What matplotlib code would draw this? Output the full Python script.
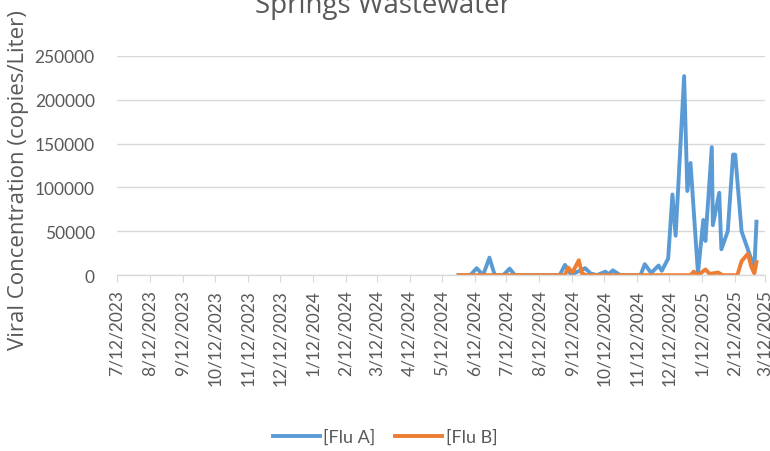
import matplotlib
matplotlib.use("Agg")
import matplotlib.pyplot as plt
import matplotlib.dates as mdates
from matplotlib.ticker import FuncFormatter, MultipleLocator
import pandas as pd

# --- data ---
flu_a_dates = ["2024-05-28", "2024-06-08", "2024-06-14", "2024-06-20", "2024-06-26",
               "2024-07-01", "2024-07-09", "2024-07-15", "2024-07-20", "2024-08-03",
               "2024-08-31", "2024-09-05", "2024-09-11", "2024-09-15", "2024-09-19",
               "2024-09-24", "2024-09-29", "2024-10-05", "2024-10-13", "2024-10-16",
               "2024-10-20", "2024-10-27", "2024-11-15", "2024-11-19", "2024-11-25",
               "2024-12-02", "2024-12-05", "2024-12-11", "2024-12-15", "2024-12-18",
               "2024-12-26", "2024-12-29", "2025-01-01", "2025-01-08", "2025-01-13",
               "2025-01-15", "2025-01-21", "2025-01-22", "2025-01-28", "2025-01-30",
               "2025-02-05", "2025-02-10", "2025-02-12", "2025-02-18", "2025-02-24",
               "2025-03-02", "2025-03-04"]
flu_a_vals = [0, 0, 8000, 0, 20000,
              0, 0, 7500, 0, 0,
              0, 11700, 0, 3000, 5000,
              8000, 2000, 0, 4000, 1000,
              5500, 0, 0, 12500, 2500,
              11000, 5000, 19000, 92000, 45000,
              227000, 96000, 128000, 2000, 63000,
              39000, 146000, 57000, 94000, 29500,
              50000, 137500, 137500, 50000, 29000,
              8000, 61000]

flu_b_dates = ["2024-05-28", "2024-09-05", "2024-09-08", "2024-09-12", "2024-09-18",
               "2024-09-21", "2024-09-25", "2025-01-01", "2025-01-04", "2025-01-08",
               "2025-01-15", "2025-01-19", "2025-01-27", "2025-01-31", "2025-02-14",
               "2025-02-18", "2025-02-24", "2025-02-27", "2025-03-02", "2025-03-04"]
flu_b_vals = [0, 0, 8700, 3000, 17000,
              2000, 0, 0, 4000, 0,
              6500, 1500, 3000, 0, 0,
              16000, 24500, 10000, 2000, 15000]

x_start, x_end = "2023-07-12", "2025-03-12"

GRAY_TXT = "#595959"
GRID = "#D9D9D9"
BLUE = "#5B9BD5"
ORANGE = "#ED7D31"

fig = plt.figure(figsize=(7.7, 4.52), dpi=100)
ax = fig.add_axes([0.152, 0.389, 0.8415, 0.485])

ax.plot(pd.to_datetime(flu_a_dates), flu_a_vals, color=BLUE, lw=2.8,
        solid_joinstyle="round", label="[Flu A]")
ax.plot(pd.to_datetime(flu_b_dates), flu_b_vals, color=ORANGE, lw=2.8,
        solid_joinstyle="round", label="[Flu B]")

ax.set_ylim(0, 250000)
ax.yaxis.set_major_locator(MultipleLocator(50000))
ax.set_xlim(pd.Timestamp(x_start), pd.Timestamp(x_end))
ax.xaxis.set_major_locator(mdates.MonthLocator(bymonthday=12))


def fmt_date(x, pos):
    d = mdates.num2date(x)
    return f"{d.month}/{d.day}/{d.year}"


ax.xaxis.set_major_formatter(FuncFormatter(fmt_date))

ax.grid(axis="y", color=GRID, lw=1)
ax.set_axisbelow(True)
for s in ("left", "right", "top"):
    ax.spines[s].set_visible(False)
ax.spines["bottom"].set_color(GRID)
ax.spines["bottom"].set_linewidth(1)

ax.tick_params(axis="y", length=0, pad=16, labelsize=12.5, labelcolor=GRAY_TXT)
ax.tick_params(axis="x", direction="out", length=5, color=GRID, pad=5,
               labelsize=12.5, labelcolor=GRAY_TXT, labelrotation=90)
for lbl in ax.get_xticklabels() + ax.get_yticklabels():
    lbl.set_family("Lato")

# axis title sits a bit lower than the plot centre, as in the original
fig.text(19 / 770, 1 - 180 / 452, "Viral Concentration (copies/Liter)", rotation=90,
         ha="center", va="center", fontsize=16, family="Open Sans", color=GRAY_TXT)

fig.text(0.497, 1 - 13 / 452, "Springs Wastewater", ha="center", va="baseline",
         fontsize=20, family="Open Sans", color=GRAY_TXT)

fig.legend(loc="center", bbox_to_anchor=(0.5, 1 - 438 / 452), ncol=2, frameon=False,
           prop={"family": "Lato", "size": 13}, labelcolor=GRAY_TXT,
           handlelength=2.6, columnspacing=1.1, handletextpad=0.2)

fig.savefig("out.png", dpi=100)
